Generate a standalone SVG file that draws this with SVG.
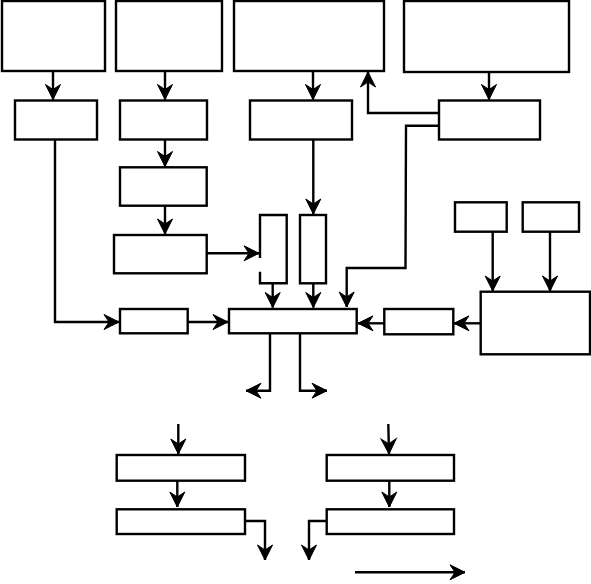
<svg xmlns="http://www.w3.org/2000/svg" width="591" height="584" viewBox="0 0 591 584">
<style>
.n{fill:#fff;stroke:#000;stroke-width:2.4}
.c path{fill:none;stroke:#000;stroke-width:2.4}
.a{marker-end:url(#ah)}
</style>
<defs>
<marker id="ah" markerUnits="userSpaceOnUse" markerWidth="20" markerHeight="20" refX="0" refY="0" viewBox="-18 -10 20 20" orient="auto" overflow="visible">
<path d="M-15,-7.5 L0,0 L-15,7.5 L-10,0 z" fill="#000" stroke="#000" stroke-width="1"/>
</marker>
</defs>
<rect width="591" height="584" fill="#fff"/>
<g id="nodeA"><rect class="n" x="2" y="1" width="103" height="70"/></g>
<g id="nodeB"><rect class="n" x="116" y="1" width="106" height="70"/></g>
<g id="nodeC"><rect class="n" x="234" y="1" width="150" height="70"/></g>
<g id="nodeD"><rect class="n" x="404" y="1" width="165" height="71"/></g>
<g id="nodeA2"><rect class="n" x="15" y="100.5" width="82" height="39"/></g>
<g id="nodeB2"><rect class="n" x="120" y="100.5" width="87" height="39"/></g>
<g id="nodeC2"><rect class="n" x="250" y="100.5" width="102" height="39"/></g>
<g id="nodeD2"><rect class="n" x="439" y="100.5" width="101" height="39"/></g>
<g id="nodeB3"><rect class="n" x="120" y="167.3" width="86.7" height="38.4"/></g>
<g id="nodeB4"><rect class="n" x="114" y="235" width="92.7" height="38.3"/></g>
<g id="nodeE"><path class="n" d="M260,258 V215 H286.7 V283.3 H260 V271.7"/></g>
<g id="nodeF"><rect class="n" x="300" y="215" width="26" height="68.3"/></g>
<g id="nodeH"><rect class="n" x="455" y="202.3" width="51.7" height="29.4"/></g>
<g id="nodeI"><rect class="n" x="522.7" y="202.3" width="56.3" height="29.4"/></g>
<g id="nodeJ"><rect class="n" x="480.7" y="291.7" width="109.3" height="62.6"/></g>
<g id="nodeG"><rect class="n" x="120" y="309" width="67.7" height="24.3"/></g>
<g id="nodeM"><rect class="n" x="229" y="309" width="127.7" height="24.3"/></g>
<g id="nodeK"><rect class="n" x="384.3" y="309" width="69" height="25.3"/></g>
<g id="nodeL1"><rect class="n" x="116.7" y="455" width="128.3" height="25.7"/></g>
<g id="nodeL2"><rect class="n" x="116.7" y="509.3" width="128.3" height="24.7"/></g>
<g id="nodeR1"><rect class="n" x="326.7" y="455" width="127.3" height="25.7"/></g>
<g id="nodeR2"><rect class="n" x="326.7" y="509.3" width="127.3" height="24.7"/></g>
<g id="connectors" class="c">
<path class="a" d="M53,71 V99.5"/>
<path class="a" d="M165,71 V99.5"/>
<path class="a" d="M313,71 V99.5"/>
<path class="a" d="M489,72 V99.5"/>
<path class="a" d="M439,113 H368 V72"/>
<path class="a" d="M439,125.7 H406 L405.5,268 H346.7 V307"/>
<path class="a" d="M165,139.5 V166.5"/>
<path class="a" d="M165,205.7 V234"/>
<path class="a" d="M206.7,253.3 H259"/>
<path class="a" d="M313.3,139.5 V214"/>
<path class="a" d="M272.7,283.3 V307.5"/>
<path class="a" d="M313.3,283.3 V307.5"/>
<path class="a" d="M55,139.5 V322 H119"/>
<path class="a" d="M187.7,322 H228"/>
<path class="a" d="M492.7,231.7 V291"/>
<path class="a" d="M550,231.7 V291"/>
<path class="a" d="M480.7,323.3 H454"/>
<path class="a" d="M384.3,323.3 H358"/>
<path class="a" d="M270,333.3 V390.7 H246"/>
<path class="a" d="M300,333.3 V390.7 H327"/>
<path class="a" d="M178.3,424 V454"/>
<path class="a" d="M177.3,480.7 V507"/>
<path class="a" d="M388.3,424 L389,454"/>
<path class="a" d="M389.3,480.7 V507"/>
<path class="a" d="M245,521 H265 V560"/>
<path class="a" d="M326.7,521 H309 V560"/>
<path class="a" d="M355,572.3 H465"/>
</g>
</svg>
